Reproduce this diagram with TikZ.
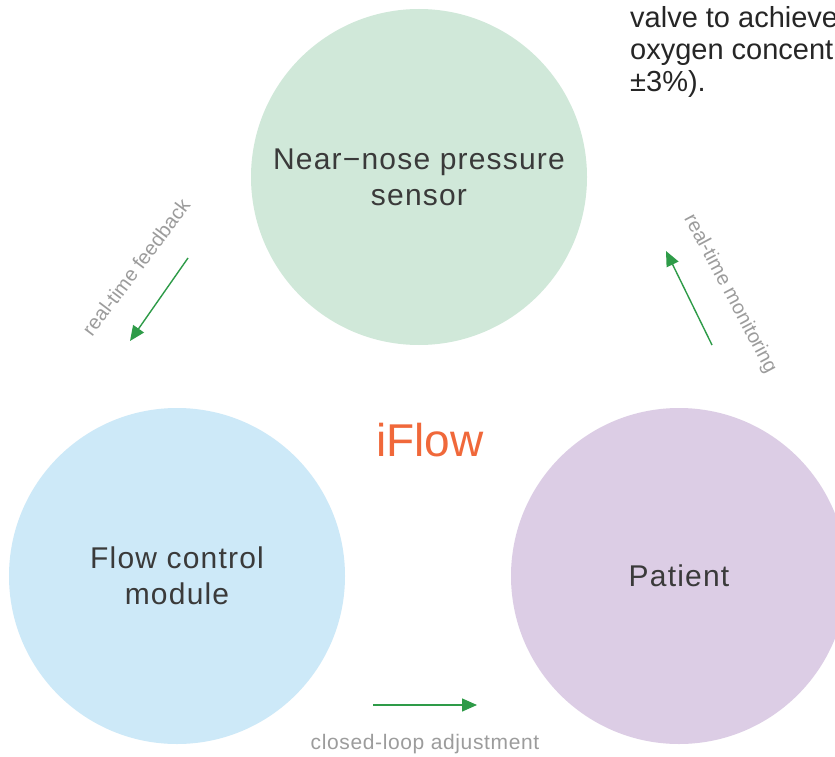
\documentclass[tikz,border=0pt]{standalone}
\usepackage{fontspec}
\setmainfont{Liberation Sans}
\usetikzlibrary{arrows.meta}
\definecolor{cgreen}{HTML}{D0E8D9}
\definecolor{cblue}{HTML}{CDE9F8}
\definecolor{cpurple}{HTML}{DCCDE5}
\definecolor{arrowgreen}{HTML}{2E9B48}
\definecolor{txtdark}{HTML}{3A3A3A}
\definecolor{lblgray}{HTML}{9C9C9C}
\definecolor{iflow}{HTML}{F0683A}
\tikzset{
  bubble/.style={circle, minimum size=336pt, inner sep=0pt, text=txtdark, align=center,
    font=\fontsize{30}{36}\selectfont\addfontfeature{LetterSpace=4}},
  flowarrow/.style={draw=arrowgreen, line width=1.4pt, -{Triangle[length=15pt,width=13pt]}},
  lbl/.style={text=lblgray, font=\fontsize{20}{24}\selectfont, inner sep=0pt},
  note/.style={text=black!85, font=\fontsize{29}{33}\selectfont, anchor=base west, inner sep=0pt}
}
\begin{document}
\begin{tikzpicture}[x=1pt,y=-1pt]
\useasboundingbox (0,0) rectangle (835,757);
\clip (0,0) rectangle (835,757);
\fill[white] (0,0) rectangle (835,757);
\node[bubble, fill=cgreen] (sensor) at (419,177) {Near−nose pressure\\sensor};
\node[bubble, fill=cblue] (flow) at (177,576) {Flow control\\module};
\node[bubble, fill=cpurple] (patient) at (679,576) {Patient};
\node[text=iflow, font=\fontsize{46}{50}\selectfont, inner sep=0pt] (title) at (430,440) {iFlow};
% connectors
\coordinate (fbA) at (188,258);
\coordinate (fbB) at (130,341);
\draw[flowarrow] (fbA) -- (fbB);
\node[lbl, rotate=53] (fblbl) at (136,267) {real-time feedback};
\coordinate (mnA) at (712,345);
\coordinate (mnB) at (666,251);
\draw[flowarrow] (mnA) -- (mnB);
\node[lbl, rotate=-62] (mnlbl) at (730,294) {real-time monitoring};
\coordinate (clA) at (373,705);
\coordinate (clB) at (477,705);
\draw[flowarrow] (clA) -- (clB);
\node[lbl, font=\fontsize{21}{24}\selectfont\addfontfeature{LetterSpace=3}] (cllbl) at (425,744) {closed-loop adjustment};
% cropped note text
\node[note] (n1) at (630,28) {valve to achieve};
\node[note] (n2) at (630,60) {oxygen concent};
\node[note] (n3) at (630,92) {±3\%).};
\end{tikzpicture}
\end{document}
